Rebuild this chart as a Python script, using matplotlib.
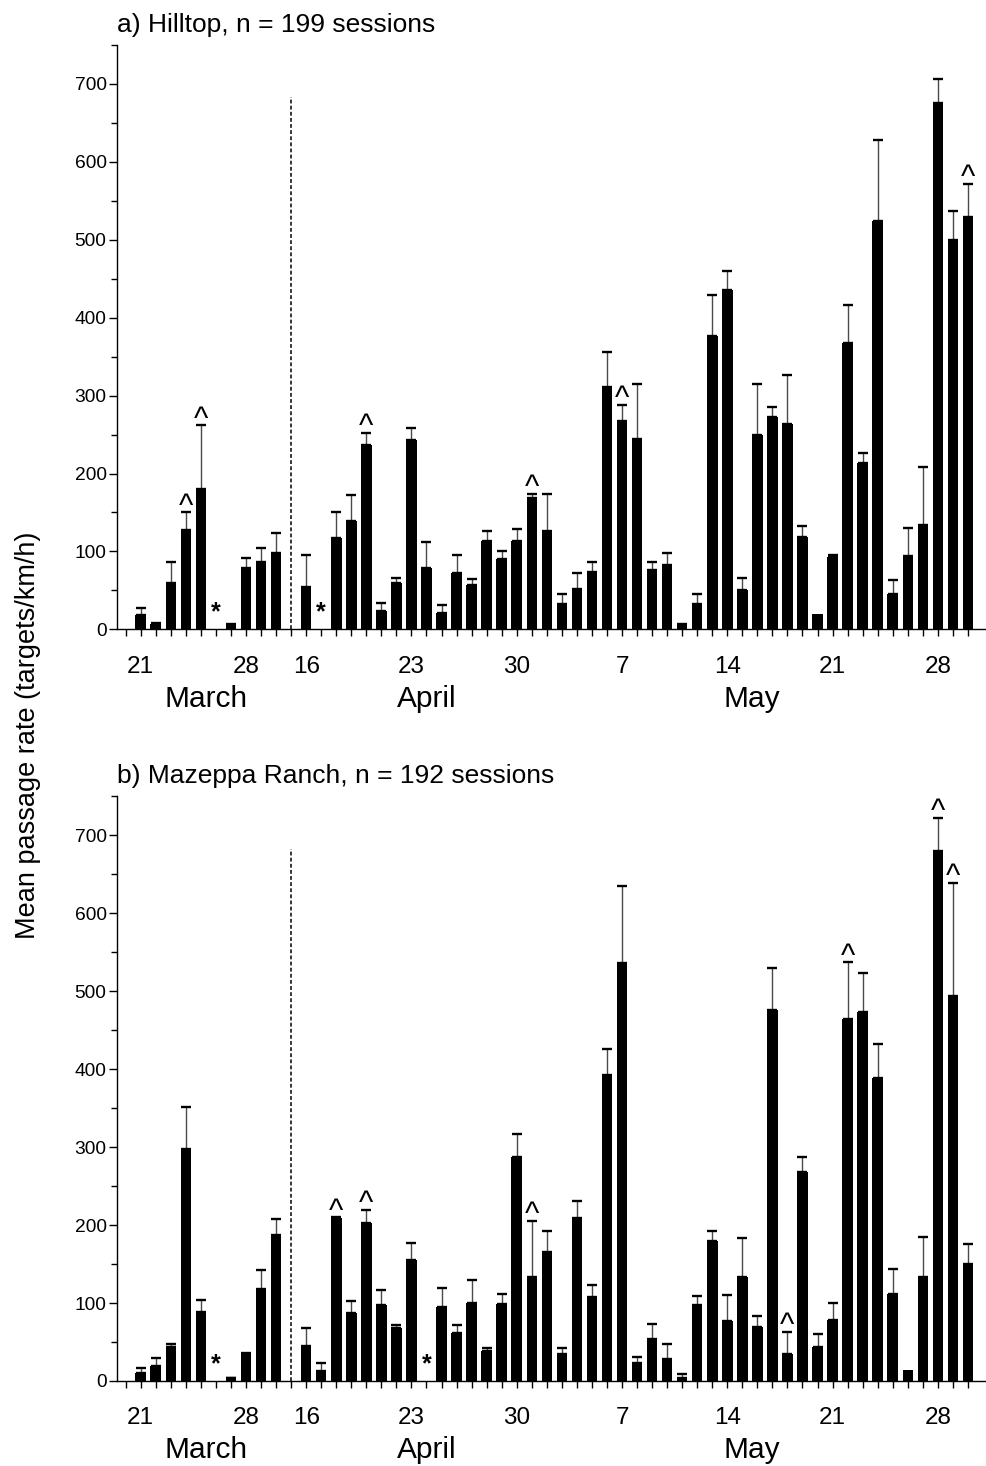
import numpy as np
import matplotlib
matplotlib.use("Agg")
import matplotlib.pyplot as plt
from matplotlib.transforms import blended_transform_factory
from matplotlib.ticker import MultipleLocator

plt.rcParams['font.family'] = ['Liberation Sans', 'DejaVu Sans']

nan = np.nan

# ---------------- data ----------------
march_days = list(range(20, 31))          # 20..30 March
april_days = list(range(16, 31))          # 16..30 April
may_days = list(range(1, 31))             # 1..30 May

# a) Hilltop
hill_mar = [0, 19, 6.5, 60, 127, 180, nan, 4, 79, 87, 98]
hill_mar_top = [0, 28, 8.6, 87, 150, 262, nan, 6.4, 91, 104, 124]
hill_apr = [55, nan, 117, 139, 237, 23.5, 59, 243, 79, 21, 72, 57, 114, 90, 113]
hill_apr_top = [96, nan, 150, 172, 252, 34, 66, 259, 112, 31, 96, 64, 126, 100, 129]
hill_may = [168, 126, 33, 51.5, 73, 311, 267, 244, 76, 83, 5.6, 32, 377, 435, 50,
            249, 272, 264, 119, 19.6, 93.5, 368, 214, 524, 46, 94, 134, 676, 500, 529]
hill_may_top = [174, 174, 45, 72, 87, 356, 288, 315, 87, 98, 7, 46, 429, 460, 65.5,
                315, 286, 326, 133, 19.6, 95, 416, 226, 628, 63, 130, 208, 707, 537, 572]
hill_caret = [("Mar", 24), ("Mar", 25), ("Apr", 20), ("May", 1), ("May", 7), ("May", 30)]
hill_star = [("Mar", 26), ("Apr", 17)]

# b) Mazeppa Ranch
maz_mar = [0, 10, 19, 43, 298, 88.5, nan, 3.4, 33, 118, 187]
maz_mar_top = [0, 17, 29, 47, 351, 104, nan, 4, 35.5, 142, 208]
maz_apr = [45, 13, 208.5, 87, 203, 97, 67.5, 155, nan, 95, 62, 100, 38.5, 99, 287]
maz_apr_top = [68, 23.5, 210, 102, 220, 117, 72, 177, nan, 119, 72, 129.5, 42, 112, 317]
maz_may = [134, 166, 34, 209.5, 108, 392, 536, 22.6, 54, 28, 4, 97, 179.5, 77, 133,
           69.5, 476, 34, 268, 43, 78, 464, 474, 389, 111, 14, 134, 680, 494, 150.5]
maz_may_top = [205.5, 193, 42, 231, 123, 426, 635, 30.5, 72.6, 47, 9.5, 109.5, 193, 110, 184,
               84, 530, 63, 288, 60.5, 99.5, 537, 524, 432, 144, 14, 185, 723, 639, 176]
maz_caret = [("Apr", 18), ("Apr", 20), ("May", 1), ("May", 18), ("May", 22), ("May", 28), ("May", 29)]
maz_star = [("Mar", 26), ("Apr", 24)]

tick_labels = [("Mar", 21), ("Mar", 28), ("Apr", 16), ("Apr", 23), ("Apr", 30),
               ("May", 7), ("May", 14), ("May", 21), ("May", 28)]
month_names = ["March", "April", "May"]
titles = ["a) Hilltop, n = 199 sessions", "b) Mazeppa Ranch, n = 192 sessions"]
ylabel = "Mean passage rate (targets/km/h)"


# ---------------- helpers ----------------
def pos(month, day):
    if month == "Mar":
        return day - 20
    if month == "Apr":
        return 12 + (day - 16)
    return 27 + (day - 1)


x_all = ([pos("Mar", d) for d in march_days] + [pos("Apr", d) for d in april_days]
         + [pos("May", d) for d in may_days])
sep_x = 11
month_x = [5.35, 20.0, 41.6]

fig = plt.figure(figsize=(9.87, 14.66), dpi=100)
axes_rects = [[0.1185, 0.5707, 0.8794, 0.3986], [0.1185, 0.0580, 0.8794, 0.3987]]
title_y = [0.9784, 0.4657]

panels = [
    (hill_mar + hill_apr + hill_may, hill_mar_top + hill_apr_top + hill_may_top, hill_caret, hill_star),
    (maz_mar + maz_apr + maz_may, maz_mar_top + maz_apr_top + maz_may_top, maz_caret, maz_star),
]

for i, (vals, tops, carets, stars) in enumerate(panels):
    ax = fig.add_axes(axes_rects[i])
    vals = np.array(vals, dtype=float)
    tops = np.array(tops, dtype=float)
    x = np.array(x_all)
    ok = ~np.isnan(vals)
    ax.bar(x[ok], vals[ok], width=0.7, color="black", edgecolor="none", zorder=2)
    err = tops[ok] - vals[ok]
    has = err > 0.3
    eb = ax.errorbar(x[ok][has], vals[ok][has], yerr=[np.zeros(has.sum()), err[has]],
                     fmt="none", ecolor="black", elinewidth=1.0, capsize=3.8, capthick=1.7, zorder=1)
    for coll in eb[2]:
        coll.set_color("#4a4a4a")
    ax.vlines(sep_x, 0, 683, colors="black", linestyles=(0, (2.5, 1.5)), linewidth=1.1)

    lookup = {xx: (v, t) for xx, v, t in zip(x, vals, tops)}
    for m, d in carets:
        xx = pos(m, d)
        ax.text(xx, lookup[xx][1] - 3, "^", ha="center", va="baseline", fontsize=22)
    for m, d in stars:
        xx = pos(m, d)
        ax.text(xx, 22, "*", ha="center", va="center", fontsize=18, fontweight="bold")

    ax.set_xlim(-0.58, 57.13)
    ax.set_ylim(0, 750)
    ax.spines["top"].set_visible(False)
    ax.spines["right"].set_visible(False)
    ax.spines["left"].set_linewidth(1.0)
    ax.spines["bottom"].set_linewidth(1.0)

    ticks = list(range(0, 57))
    lab_map = {pos(m, d): str(d) for m, d in tick_labels}
    ax.set_xticks(ticks)
    ax.set_xticklabels([lab_map.get(t, "") for t in ticks], fontsize=17.5)
    ax.tick_params(axis="x", direction="out", length=5, width=1, pad=14)

    ax.set_yticks(np.arange(0, 701, 100))
    ax.set_yticklabels([str(v) for v in range(0, 701, 100)], fontsize=13.8)
    ax.yaxis.set_minor_locator(MultipleLocator(50))
    ax.tick_params(axis="y", which="major", direction="out", length=6, width=1, pad=1.5)
    ax.tick_params(axis="y", which="minor", direction="out", length=4, width=1)

    tr = blended_transform_factory(ax.transData, ax.transAxes)
    for name, mx in zip(month_names, month_x):
        ax.text(mx, -0.1325, name, transform=tr, ha="center", va="baseline", fontsize=21.5)

    fig.text(0.1185, title_y[i], titles[i], ha="left", va="baseline", fontsize=19)

fig.text(0.0284, 0.4986, ylabel, rotation=90, ha="center", va="center", fontsize=19.5)

fig.savefig("out.png", dpi=100)
